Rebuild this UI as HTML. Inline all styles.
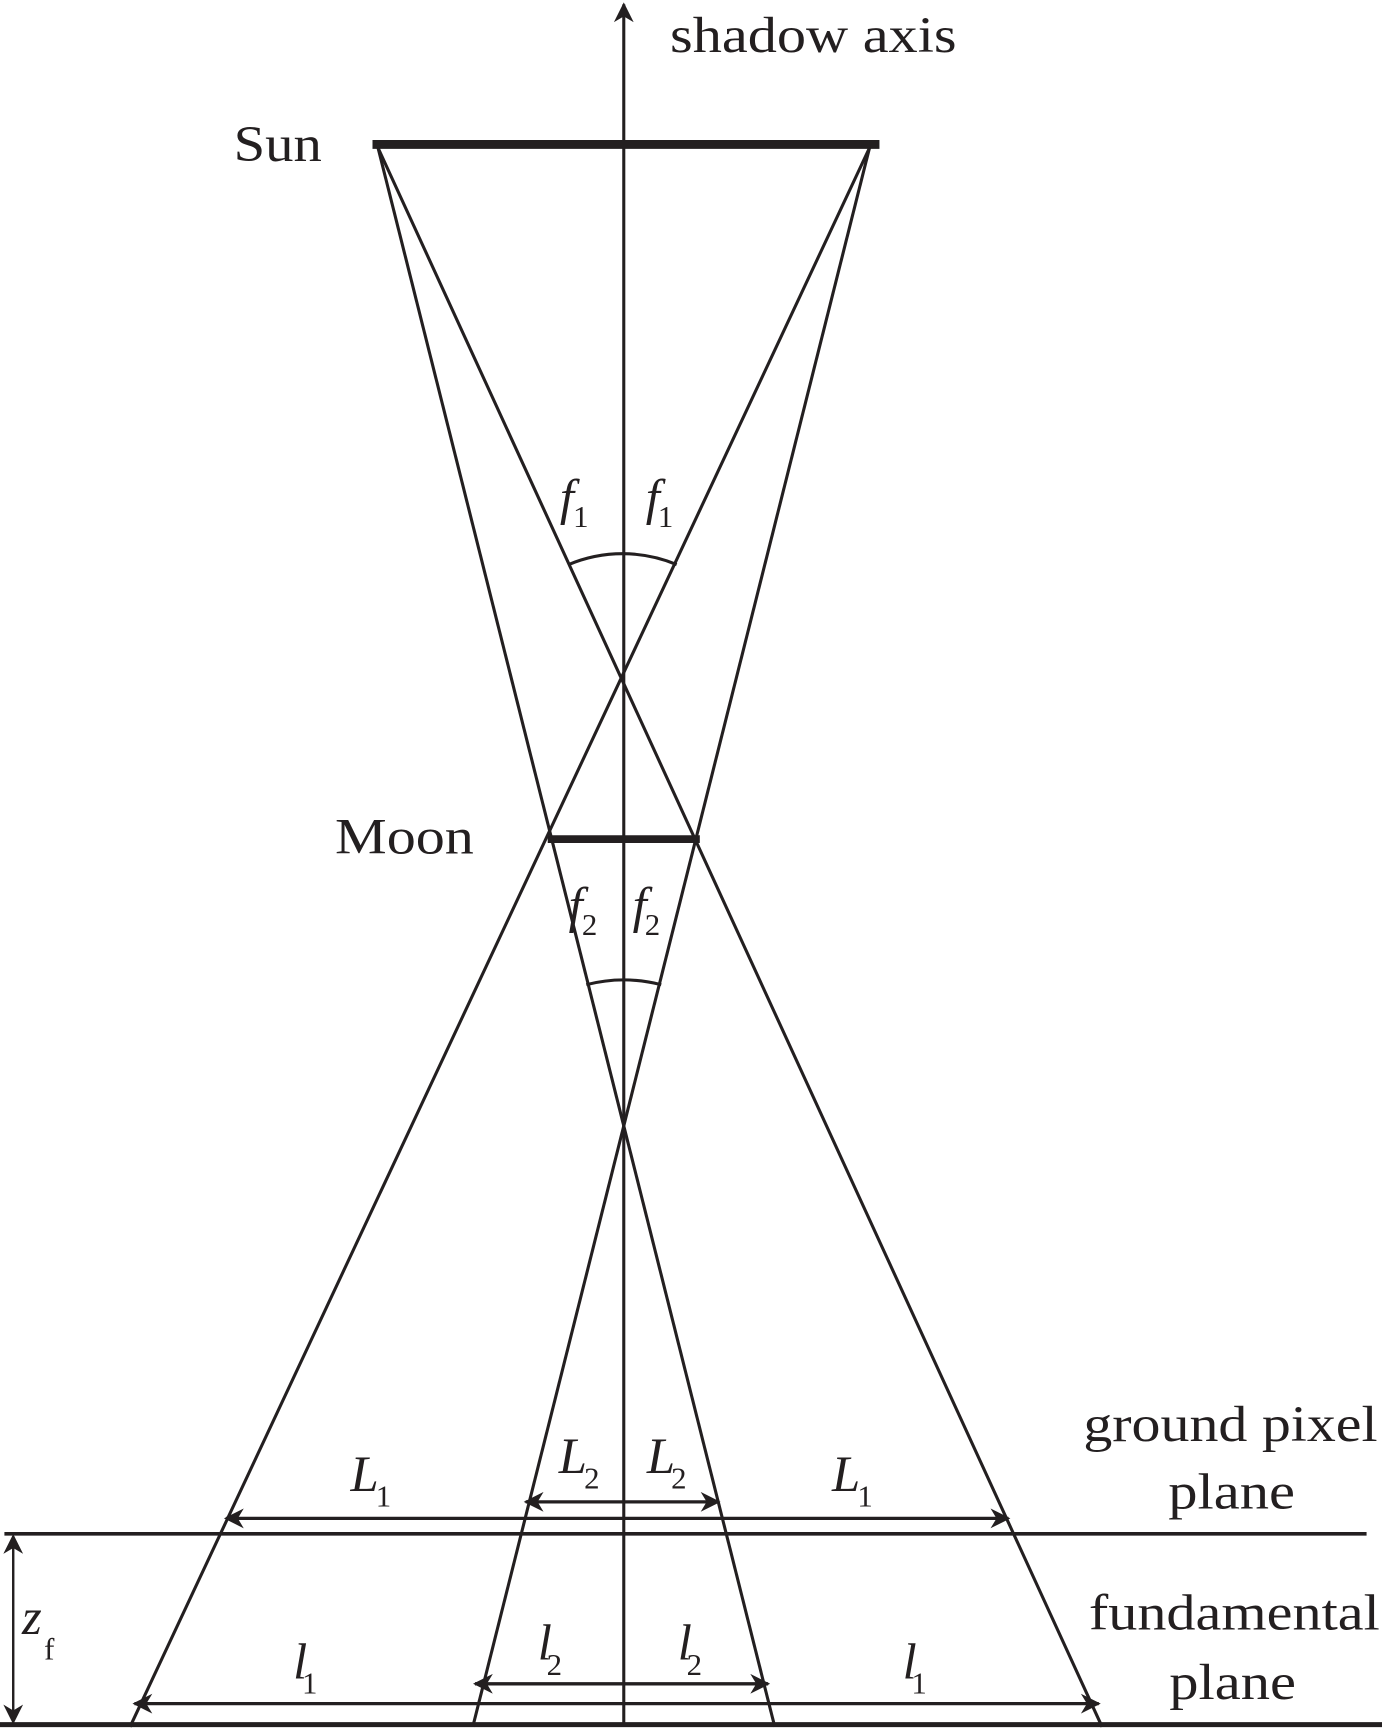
<!DOCTYPE html>
<html><head><meta charset="utf-8"><style>
html,body{margin:0;padding:0;background:#fff;}
svg{display:block;}
text{font-family:"Liberation Serif",serif;fill:#231f20;}
.i{font-style:italic;}
</style></head><body>
<svg width="1382" height="1729" viewBox="0 0 1254 1568" preserveAspectRatio="none" xmlns="http://www.w3.org/2000/svg">
<defs>
<marker id="b" viewBox="0 0 10 10" refX="9" refY="5" markerWidth="22" markerHeight="18" markerUnits="userSpaceOnUse" orient="auto-start-reverse"><path d="M0,0 L10,5 L0,10 L3,5 z" fill="#231f20"/></marker>
</defs>
<g stroke="#231f20" fill="none" stroke-width="2.8">
<line x1="566" y1="1566" x2="566" y2="4" marker-end="url(#b)"/>
<line x1="338" y1="131" x2="798" y2="131" stroke-width="8"/>
<line x1="497" y1="761" x2="635" y2="761" stroke-width="7"/>
<line x1="343" y1="134" x2="703" y2="1566"/>
<line x1="789" y1="134" x2="429" y2="1566"/>
<line x1="343" y1="134" x2="1000" y2="1566"/>
<line x1="789" y1="134" x2="118" y2="1566"/>
<path d="M516,512 A127,127 0 0 1 614,512"/>
<path d="M532,893 A137,137 0 0 1 600,893"/>
<line x1="4" y1="1391" x2="1240" y2="1391" stroke-width="3.2"/>
<line x1="0" y1="1564" x2="1254" y2="1564" stroke-width="4.5"/>
<line x1="205" y1="1377" x2="915" y2="1377" stroke-width="3" marker-start="url(#b)" marker-end="url(#b)"/>
<line x1="477" y1="1362" x2="652" y2="1362" stroke-width="3" marker-start="url(#b)" marker-end="url(#b)"/>
<line x1="122" y1="1545" x2="997" y2="1545" stroke-width="3" marker-start="url(#b)" marker-end="url(#b)"/>
<line x1="431" y1="1527" x2="697" y2="1527" stroke-width="3" marker-start="url(#b)" marker-end="url(#b)"/>
<line x1="12" y1="1393" x2="12" y2="1562" stroke-width="2.2" marker-start="url(#b)" marker-end="url(#b)"/>
</g>
<g font-size="46">
<text x="608" y="47" textLength="260" lengthAdjust="spacingAndGlyphs">shadow axis</text>
<text x="212" y="146" textLength="80" lengthAdjust="spacingAndGlyphs">Sun</text>
<text x="304" y="774" textLength="126" lengthAdjust="spacingAndGlyphs">Moon</text>
<text x="983" y="1307" textLength="267" lengthAdjust="spacingAndGlyphs">ground pixel</text>
<text x="1060" y="1368" textLength="115" lengthAdjust="spacingAndGlyphs">plane</text>
<text x="988" y="1478" textLength="264" lengthAdjust="spacingAndGlyphs">fundamental</text>
<text x="1061" y="1541" textLength="115" lengthAdjust="spacingAndGlyphs">plane</text>
</g>
<g font-size="46">
<text x="508" y="466" class="i">f</text><text x="520" y="478" font-size="28">1</text>
<text x="586" y="466" class="i">f</text><text x="597" y="478" font-size="28">1</text>
<text x="516" y="836" class="i">f</text><text x="528" y="848" font-size="28">2</text>
<text x="574" y="836" class="i">f</text><text x="585" y="848" font-size="28">2</text>
<text x="318" y="1352" class="i">L</text><text x="341" y="1366" font-size="28">1</text>
<text x="507" y="1336" class="i">L</text><text x="530" y="1350" font-size="28">2</text>
<text x="587" y="1336" class="i">L</text><text x="609" y="1350" font-size="28">2</text>
<text x="755" y="1352" class="i">L</text><text x="778" y="1366" font-size="28">1</text>
<text x="266" y="1522" class="i">l</text><text x="274" y="1536" font-size="28">1</text>
<text x="488" y="1505" class="i">l</text><text x="496" y="1519" font-size="28">2</text>
<text x="615" y="1505" class="i">l</text><text x="623" y="1519" font-size="28">2</text>
<text x="819" y="1522" class="i">l</text><text x="827" y="1536" font-size="28">1</text>
<text x="20" y="1482" class="i">z</text><text x="40" y="1505" font-size="28">f</text>
</g>
</svg>
</body></html>
